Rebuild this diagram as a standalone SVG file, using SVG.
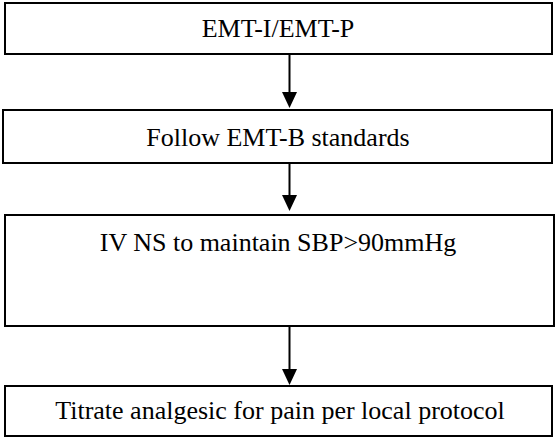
<svg xmlns="http://www.w3.org/2000/svg" width="555" height="438" viewBox="0 0 555 438">
<style>
.box{fill:#fff;stroke:#000;stroke-width:2}
.lbl{font-family:"Liberation Serif","Times New Roman",serif;font-size:26px;fill:#000;text-anchor:middle}
.edge{stroke:#000;stroke-width:2;fill:none}
.head{fill:#000}
</style>
<rect width="555" height="438" fill="#fff"/>
<g id="n1"><rect class="box" x="5" y="3" width="547" height="51"/><text class="lbl" x="278" y="37">EMT-I/EMT-P</text></g>
<g id="n2"><rect class="box" x="3" y="110" width="549" height="53"/><text class="lbl" x="278" y="146">Follow EMT-B standards</text></g>
<g id="n3"><rect class="box" x="5" y="215" width="549" height="111"/><text class="lbl" x="278" y="251">IV NS to maintain SBP&gt;90mmHg</text></g>
<g id="n4"><rect class="box" x="5" y="386" width="547" height="50"/><text class="lbl" x="280" y="419">Titrate analgesic for pain per local protocol</text></g>
<g id="connectors">
<line class="edge" x1="289.5" y1="54" x2="289.5" y2="93"/>
<polygon class="head" points="282,92 297,92 289.5,108"/>
<line class="edge" x1="289.5" y1="163" x2="289.5" y2="196"/>
<polygon class="head" points="282,195 297,195 289.5,211"/>
<line class="edge" x1="289.5" y1="326" x2="289.5" y2="370"/>
<polygon class="head" points="282,369 297,369 289.5,385"/>
</g>
</svg>
